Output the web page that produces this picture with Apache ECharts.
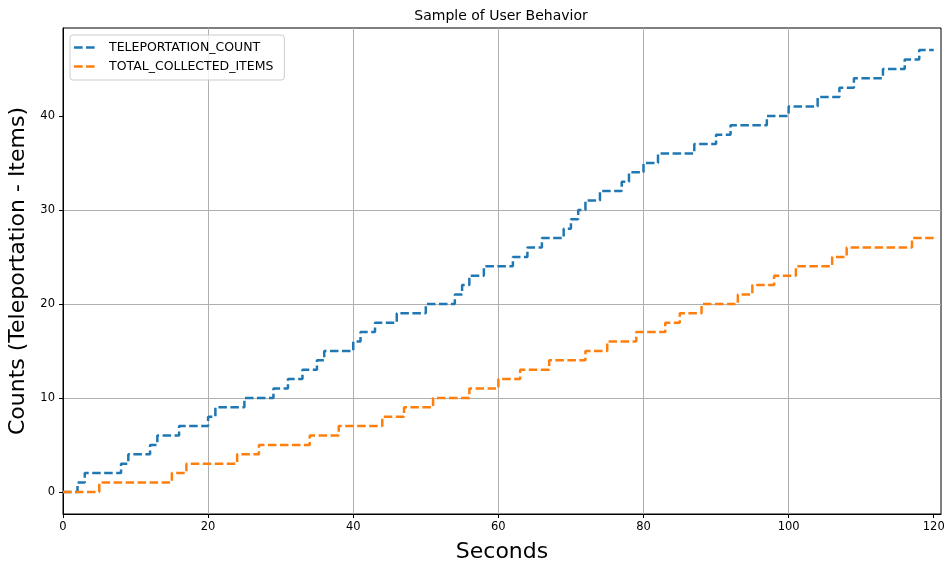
<!DOCTYPE html>
<html>
<head>
<meta charset="utf-8">
<script src="https://cdn.jsdelivr.net/npm/echarts@6/dist/echarts.min.js"></script>
<style>
html,body{margin:0;padding:0;background:#fff;}
#chart{width:951px;height:565px;}
</style>
</head>
<body>
<div id="chart"></div>
<script>
// Step change times (seconds) and the new count reached at each time
var teleportTimes  = [0,2,3,8,9,12,13,16,20,21,25,29,31,33,35,36,40,41,43,46,50,54,55,56,58,62,64,66,69,70,71,72,74,77,78,80,82,87,90,92,97,100,104,107,109,113,116,118,120];
var teleportCounts = [0,1,2,3,4,5,6,7,8,9,10,11,12,13,14,15,16,17,18,19,20,21,22,23,24,25,26,27,28,29,30,31,32,33,34,35,36,37,38,39,40,41,42,43,44,45,46,47,47];
var itemTimes  = [0,5,15,17,24,27,34,38,44,47,51,56,60,63,67,72,75,79,83,85,88,93,95,98,101,106,108,117,120];
var itemCounts = [0,1,2,3,4,5,6,7,8,9,10,11,12,13,14,15,16,17,18,19,20,21,22,23,24,25,26,27,27];
var seriesNames = ['TELEPORTATION_COUNT','TOTAL_COLLECTED_ITEMS'];
var xTicks = [0,20,40,60,80,100,120];
var yTicks = [0,10,20,30,40];

function pairs(xs, ys){ return xs.map(function(x,i){ return [x, ys[i]]; }); }

var FONT = 'DejaVu Sans';
var chart = echarts.init(document.getElementById('chart'), null, {renderer:'canvas'});
var lineBase = {width:2.5, type:[8.5,3.5]};
var dashIcon = 'path://M0,0 h9 v2.5 h-9 z M12.5,0 h9 v2.5 h-9 z M25,0 h0.01 v2.5 h-0.01 z';
chart.setOption({
  animation:false,
  backgroundColor:'#ffffff',
  title:{
    text:'Sample of User Behavior', left:501, top:9, textAlign:'center', padding:0,
    textStyle:{fontFamily:FONT, fontSize:14, fontWeight:'normal', color:'#000'}
  },
  legend:{
    orient:'vertical', left:70, top:35, padding:[5,11,6,4], itemGap:4,
    itemWidth:24, itemHeight:3, icon:dashIcon,
    borderColor:'#cccccc', borderWidth:1, borderRadius:3, backgroundColor:'rgba(255,255,255,0.8)',
    textStyle:{fontFamily:FONT, fontSize:12.5, color:'#000', padding:[0,0,0,6], lineHeight:15},
    data:seriesNames
  },
  grid:{left:63, top:28, right:10, bottom:51, outerBoundsMode:'none', containLabel:false,
    show:true, borderColor:'#000', borderWidth:1, backgroundColor:'transparent'},
  xAxis:{
    type:'value', min:0, max:121, interval:20,
    name:'Seconds', nameLocation:'middle', nameGap:27,
    nameTextStyle:{fontFamily:FONT, fontSize:22, color:'#000'},
    axisLine:{show:true, onZero:false, lineStyle:{color:'#000', width:1}},
    axisTick:{show:true, length:4, lineStyle:{color:'#000'}, customValues:xTicks},
    axisLabel:{fontFamily:FONT, fontSize:11.5, color:'#000', margin:7, customValues:xTicks},
    splitLine:{show:true, showMinLine:false, showMaxLine:false, lineStyle:{color:'#b0b0b0', width:1}}
  },
  yAxis:{
    type:'value', min:-2.35, max:49.35,
    name:'Counts (Teleportation - Items)', nameLocation:'middle', nameGap:27, nameRotate:90,
    nameTextStyle:{fontFamily:FONT, fontSize:22, color:'#000'},
    axisLine:{show:true, onZero:false, lineStyle:{color:'#000', width:1}},
    axisTick:{show:true, length:4, lineStyle:{color:'#000'}, customValues:yTicks},
    axisLabel:{fontFamily:FONT, fontSize:11.5, color:'#000', margin:8, customValues:yTicks},
    splitLine:{show:true, showMinLine:false, showMaxLine:false, lineStyle:{color:'#b0b0b0', width:1}}
  },
  series:[
    {name:seriesNames[0], type:'line', step:'end', symbol:'none', showSymbol:false,
     data:pairs(teleportTimes, teleportCounts), color:'#1f77b4',
     lineStyle:{color:'#1f77b4', width:lineBase.width, type:lineBase.type}, z:3},
    {name:seriesNames[1], type:'line', step:'end', symbol:'none', showSymbol:false,
     data:pairs(itemTimes, itemCounts), color:'#ff7f0e',
     lineStyle:{color:'#ff7f0e', width:lineBase.width, type:lineBase.type}, z:3}
  ]
});
</script>
</body>
</html>
